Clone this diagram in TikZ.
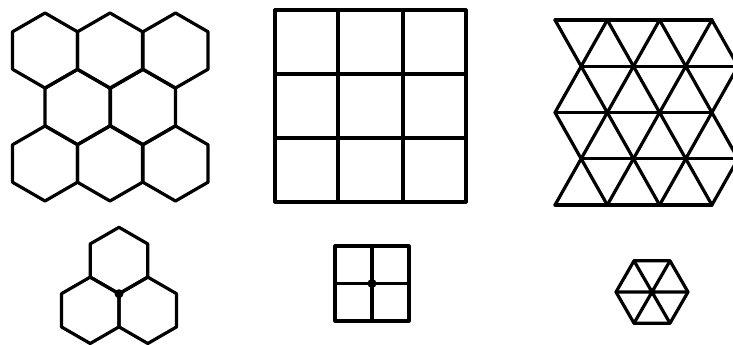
\documentclass[tikz,border=0pt]{standalone}
\tikzset{ink/.style={line width=3.2pt, line join=round, line cap=round, black},
  hexcell/.style={ink}}
\begin{document}
\begin{tikzpicture}[x=1pt,y=-1pt]
\useasboundingbox (0,0) rectangle (733,345);
% ---- hexagonal tiling (top left)
\def\hr{37.5}
\foreach \cx/\cy in {45/50.5,110/50.5,175.5/50.5,77.5/107,143/107,45/163.5,110/163.5,175.5/163.5}
  \draw[hexcell] (\cx,\cy) +(90:\hr) -- +(30:\hr) -- +(-30:\hr) -- +(-90:\hr) -- +(-150:\hr) -- +(150:\hr) -- cycle;
% ---- square tiling (top middle)
\draw[ink] (275,10) rectangle (466,202);
\draw[ink] (338,10) -- (338,202) (403,10) -- (403,202);
\draw[ink] (275,74) -- (466,74) (275,138) -- (466,138);
% ---- triangular tiling (top right)
\begin{scope}
\clip (0,0) rectangle (733,345);
\foreach \j in {0,...,4}
  \draw[ink] ({555+26.15*mod(\j,2)},{20+46.25*\j}) -- ({555+26.15*mod(\j,2)+156.9},{20+46.25*\j});
\foreach \j in {0,2} {
  \foreach \i in {0,...,3} \draw[ink] ({555+52.3*\i},{20+46.25*\j}) -- ({581.15+52.3*\i},{66.25+46.25*\j});
  \foreach \i in {1,...,3} \draw[ink] ({555+52.3*\i},{20+46.25*\j}) -- ({528.85+52.3*\i},{66.25+46.25*\j});
}
\foreach \j in {1,3} {
  \foreach \i in {0,...,3} \draw[ink] ({581.15+52.3*\i},{20+46.25*\j}) -- ({555+52.3*\i},{66.25+46.25*\j});
  \foreach \i in {0,...,2} \draw[ink] ({581.15+52.3*\i},{20+46.25*\j}) -- ({607.3+52.3*\i},{66.25+46.25*\j});
}
\end{scope}
% ---- three hexagons at a vertex (bottom left)
\def\sr{33.2}
\foreach \cx/\cy in {119/260.5,90.2/310.3,147.8/310.3}
  \draw[hexcell] (\cx,\cy) +(90:\sr) -- +(30:\sr) -- +(-30:\sr) -- +(-90:\sr) -- +(-150:\sr) -- +(150:\sr) -- cycle;
\fill (119,293.7) circle (4.5);
% ---- four squares at a vertex (bottom middle)
\draw[ink] (335,246) rectangle (409,321);
\draw[ink] (372,246) -- (372,321) (335,283.5) -- (409,283.5);
\fill (372,283.5) circle (4.5);
% ---- six triangles at a vertex (bottom right)
\coordinate (hc) at (652,292);
\draw[ink] (hc) +(0:36) -- +(60:36) -- +(120:36) -- +(180:36) -- +(240:36) -- +(300:36) -- cycle;
\draw[ink] (hc) +(0:36) -- +(180:36) (hc) +(60:36) -- +(240:36) (hc) +(120:36) -- +(300:36);
\fill (hc) circle (3.8);
\end{tikzpicture}
\end{document}
